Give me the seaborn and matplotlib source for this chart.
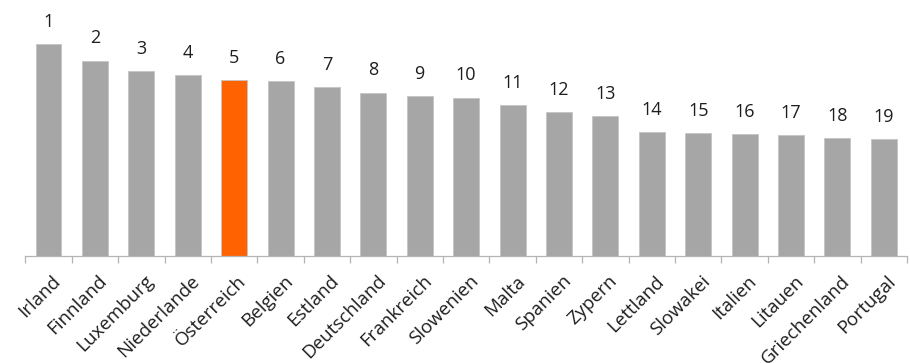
import matplotlib
matplotlib.use("Agg")
import matplotlib.pyplot as plt
import matplotlib.transforms as mtransforms
import seaborn as sns
import pandas as pd
from matplotlib.ticker import FixedLocator

countries = ["Irland", "Finnland", "Luxemburg", "Niederlande", "Österreich", "Belgien",
             "Estland", "Deutschland", "Frankreich", "Slowenien", "Malta", "Spanien",
             "Zypern", "Lettland", "Slowakei", "Italien", "Litauen", "Griechenland", "Portugal"]
values = [212, 195.3, 185, 180.7, 176, 175, 168.7, 163.3, 159.7, 158.3, 151, 144, 140,
          123.7, 123, 121.7, 121, 118, 117]
ranks = [str(i) for i in range(1, 20)]
highlight = "Österreich"

sns.set_theme(style="white")
plt.rcParams['font.family'] = ['Open Sans', 'DejaVu Sans']

GRAY = "#a6a6a6"
ORANGE = "#ff6200"
palette = {c: (ORANGE if c == highlight else GRAY) for c in countries}

df = pd.DataFrame({"country": countries, "value": values})

fig = plt.figure(figsize=(9.1, 3.63), dpi=100)
ax = fig.add_axes([25.3 / 910, (363 - 256) / 363, (907 - 25.3) / 910, 256 / 363])

sns.barplot(data=df, x="country", y="value", hue="country", palette=palette,
            legend=False, width=0.56, ax=ax, saturation=1, edgecolor="#c4c4c4",
            linewidth=0.6)

for i, (v, r) in enumerate(zip(values, ranks)):
    ax.annotate(r, xy=(i, v), xytext=(0, 12.5), textcoords="offset points",
                ha="center", va="baseline", fontsize=13, color="#1e1e1e")

ax.set_xlim(-0.5, len(countries) - 0.5)
ax.set_ylim(0, 256)
ax.set_xlabel("")
ax.set_ylabel("")
ax.set_yticks([])
for s in ["top", "right", "left"]:
    ax.spines[s].set_visible(False)
ax.spines["bottom"].set_color("#b4b4b4")
ax.spines["bottom"].set_linewidth(0.9)

ax.xaxis.set_minor_locator(FixedLocator([i - 0.5 for i in range(len(countries) + 1)]))
ax.tick_params(axis="x", which="minor", length=5, width=0.9, color="#b4b4b4", bottom=True)
ax.tick_params(axis="x", which="major", length=0, pad=11.5, labelsize=13.5, labelcolor="#1e1e1e")
shift = mtransforms.ScaledTranslation(0.03, 0, fig.dpi_scale_trans)
for lbl in ax.get_xticklabels():
    lbl.set_rotation(45)
    lbl.set_ha("right")
    lbl.set_rotation_mode("anchor")
    lbl.set_transform(lbl.get_transform() + shift)

fig.savefig("out.png", dpi=100)
